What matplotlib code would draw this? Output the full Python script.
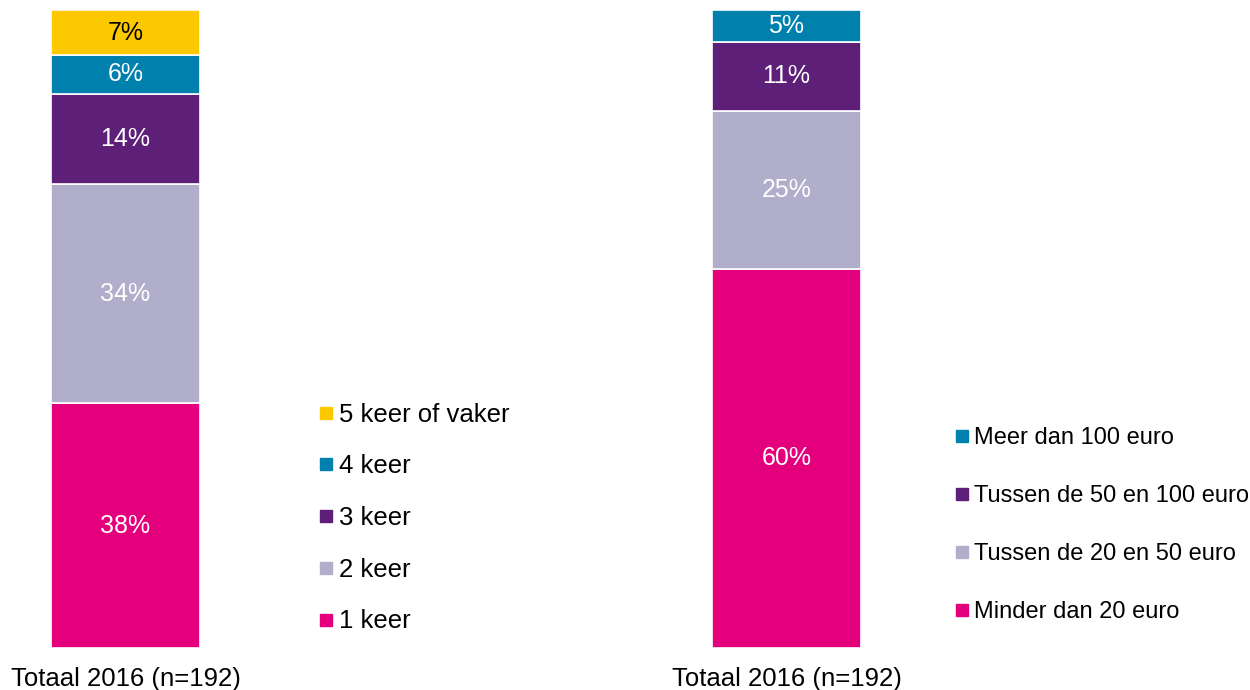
import matplotlib
matplotlib.use("Agg")
import matplotlib.pyplot as plt
from matplotlib.lines import Line2D

plt.rcParams["font.family"] = ["Liberation Sans", "DejaVu Sans"]

# Frequency of visits
freq_labels = ["1 keer", "2 keer", "3 keer", "4 keer", "5 keer of vaker"]
freq_values = [38, 34, 14, 6, 7]
freq_colors = ["#E4007C", "#B1AECB", "#5E1F78", "#0080AD", "#FCC800"]
freq_text = ["white", "white", "white", "white", "black"]

# Amount spent
spend_labels = ["Minder dan 20 euro", "Tussen de 20 en 50 euro",
                "Tussen de 50 en 100 euro", "Meer dan 100 euro"]
spend_values = [60, 25, 11, 5]
spend_colors = ["#E4007C", "#B1AECB", "#5E1F78", "#0080AD"]
spend_text = ["white", "white", "white", "white"]

category = "Totaal 2016 (n=192)"

W, H = 1250, 690
fig = plt.figure(figsize=(W / 100, H / 100), dpi=100)


def px_axes(x0, x1, ytop, ybot):
    return fig.add_axes([x0 / W, (H - ybot) / H, (x1 - x0) / W, (ybot - ytop) / H])


def stacked(ax, values, colors, tcolors):
    total = sum(values)
    bottom = 0
    for v, c, tc in zip(values, colors, tcolors):
        ax.bar(0, v, bottom=bottom, width=1.0, color=c, edgecolor="white",
               linewidth=1.2)
        ax.text(0, bottom + v / 2, f"{v}%", ha="center", va="center",
                fontsize=18, color=tc)
        bottom += v
    ax.set_xlim(-0.5, 0.5)
    ax.set_ylim(0, total)
    ax.set_xticks([0])
    ax.set_xticklabels([category], fontsize=18.5)
    ax.tick_params(axis="x", length=0, pad=14)
    ax.set_yticks([])
    for s in ax.spines.values():
        s.set_visible(False)


ax1 = px_axes(51, 200, 10, 648)
stacked(ax1, freq_values, freq_colors, freq_text)

ax2 = px_axes(712, 861, 10, 648)
stacked(ax2, spend_values, spend_colors, spend_text)


def handles(labels, colors):
    return [Line2D([], [], marker="s", linestyle="", markersize=8,
                   markerfacecolor=c, markeredgecolor=c, label=l)
            for l, c in zip(labels, colors)]


leg1 = fig.legend(handles=handles(freq_labels[::-1], freq_colors[::-1]),
                  loc="center left", bbox_to_anchor=(320 / W, 1 - 518 / H),
                  frameon=False, fontsize=18.5, handlelength=0.5,
                  handletextpad=0.24, labelspacing=1.08, borderpad=0,
                  borderaxespad=0)

leg2 = fig.legend(handles=handles(spend_labels[::-1], spend_colors[::-1]),
                  loc="center left", bbox_to_anchor=(956 / W, 1 - 525 / H),
                  frameon=False, fontsize=17, handlelength=0.5,
                  handletextpad=0.26, labelspacing=1.52, borderpad=0,
                  borderaxespad=0)

fig.savefig("out.png", dpi=100)
